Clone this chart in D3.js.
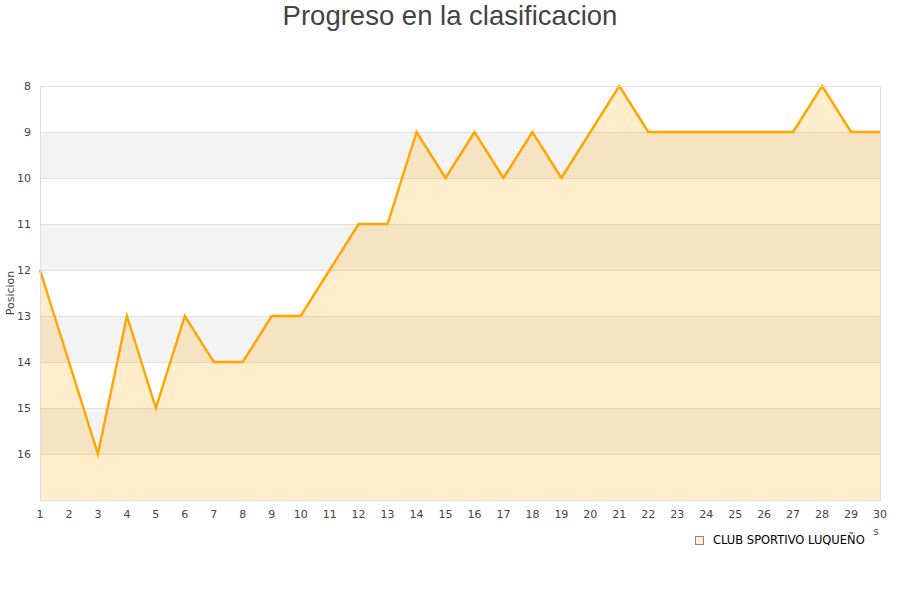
<!DOCTYPE html>
<html><head><meta charset="utf-8">
<script src="https://cdn.jsdelivr.net/npm/d3@7"></script>
<style>body{margin:0;background:#fff;}svg{font-family:"Liberation Sans",Arial,sans-serif;}</style>
</head><body><svg id="c" width="900" height="600"></svg>
<script>
const jornadas = d3.range(1, 31);
const posiciones = [12,14,16,13,15,13,14,14,13,13,12,11,11,9,10,9,10,9,10,9,8,9,9,9,9,9,9,8,9,9];
const yTicks = [8,9,10,11,12,13,14,15,16];
const teamName = "CLUB SPORTIVO LUQUEÑO";
const title = "Progreso en la clasificacion";

const svg = d3.select("#c");
const L = 40, R = 880, T = 86, B = 500;
const x = d3.scaleLinear().domain([1, 30]).range([L, R]);
const y = d3.scaleLinear().domain([8, 17]).range([T, B]);
const tickFont = "'DejaVu Sans', Verdana, sans-serif";

const bands = d3.range(8, 17);
svg.selectAll("rect.band").data(bands).enter().append("rect")
  .attr("x", L).attr("width", R - L)
  .attr("y", d => y(d)).attr("height", d => y(d + 1) - y(d))
  .attr("fill", d => d % 2 === 1 ? "#f3f3f3" : "#ffffff");
svg.selectAll("line.grid").data(yTicks).enter().append("line")
  .attr("x1", L).attr("x2", R).attr("y1", d => y(d)).attr("y2", d => y(d))
  .attr("stroke", "#e0e0e0").attr("stroke-width", 1).attr("shape-rendering", "crispEdges");

const data = jornadas.map((j, i) => ({j, p: posiciones[i]}));
svg.append("path").datum(data)
  .attr("d", d3.area().x(d => x(d.j)).y0(y(17)).y1(d => y(d.p)))
  .attr("fill", "rgba(255,165,0,0.2)");
svg.append("path").datum(data)
  .attr("d", d3.line().x(d => x(d.j)).y(d => y(d.p)))
  .attr("fill", "none").attr("stroke", "#ffa500").attr("stroke-width", 2.4);

svg.append("rect").attr("x", L).attr("y", T).attr("width", R - L).attr("height", B - T)
  .attr("fill", "none").attr("stroke", "#dddddd").attr("shape-rendering", "crispEdges");

svg.selectAll("text.yt").data(yTicks).enter().append("text")
  .attr("x", 31).attr("y", d => y(d) + 4).attr("text-anchor", "end")
  .style("font-family", tickFont).attr("font-size", 11).attr("fill", "#444").text(d => d);
svg.selectAll("text.xt").data(jornadas).enter().append("text")
  .attr("x", d => x(d)).attr("y", 518).attr("text-anchor", "middle")
  .style("font-family", tickFont).attr("font-size", 11).attr("fill", "#444").text(d => d);

svg.append("text").attr("transform", "translate(14,293) rotate(-90)")
  .attr("text-anchor", "middle").style("font-family", tickFont).attr("font-size", 11).attr("fill", "#444").text("Posicion");

svg.append("text").attr("x", 876).attr("y", 535).attr("text-anchor", "middle")
  .style("font-family", tickFont).attr("font-size", 10).attr("fill", "#444").text("s");

svg.append("text").attr("x", 450).attr("y", 25).attr("text-anchor", "middle")
  .attr("font-size", 27.5).attr("fill", "#444").text(title);

svg.append("rect").attr("x", 695.5).attr("y", 536.5).attr("width", 8).attr("height", 8)
  .attr("fill", "#ffeecc").attr("stroke", "#888");
svg.append("text").attr("x", 713).attr("y", 544).style("font-family", tickFont).attr("font-size", 11.5).attr("fill", "#000").text(teamName);
</script></body></html>
